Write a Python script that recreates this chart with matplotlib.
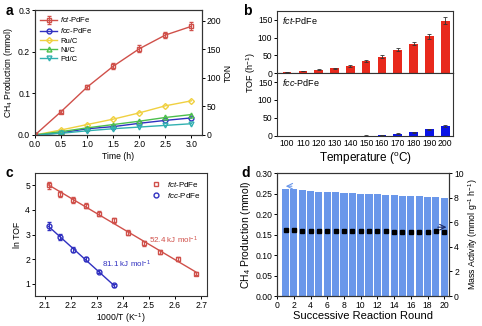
import numpy as np
import matplotlib
matplotlib.use('Agg')
from matplotlib import pyplot as plt
from matplotlib.lines import Line2D

plt.rcParams['font.family'] = ['Liberation Sans', 'DejaVu Sans']
plt.rcParams['mathtext.fontset'] = 'custom'
plt.rcParams['mathtext.rm'] = 'Liberation Sans'
plt.rcParams['mathtext.it'] = 'Liberation Sans:italic'
plt.rcParams['axes.linewidth'] = 0.8
plt.rcParams['axes.edgecolor'] = '#333333'

# ---- panel a data ----
time_h = [0, 0.5, 1.0, 1.5, 2.0, 2.5, 3.0]
fct_ch4 = [0, 0.056, 0.115, 0.165, 0.207, 0.240, 0.261]
fct_err = [0, 0.003, 0.005, 0.007, 0.008, 0.008, 0.010]
fcc_ch4 = [0, 0.005, 0.015, 0.020, 0.028, 0.035, 0.041]
ru_ch4 = [0, 0.012, 0.025, 0.038, 0.053, 0.070, 0.082]
ni_ch4 = [0, 0.008, 0.017, 0.025, 0.033, 0.042, 0.049]
pd_ch4 = [0, 0.004, 0.010, 0.015, 0.019, 0.023, 0.027]

# ---- panel b data ----
temps = ['100', '110', '120', '130', '140', '150', '160', '170', '180', '190', '200']
tof_fct = [3, 6, 9, 13, 20, 35, 46, 66, 83, 104, 148]
tof_fct_err = [1, 1, 1.5, 2, 2, 3, 4, 5, 5, 7, 9]
tof_fcc = [0, 0, 0, 0, 0, 1, 3, 6, 10, 18, 28]
tof_fcc_err = [0, 0, 0, 0, 0, 0.5, 1, 1.5, 2, 2.5, 3]

# ---- panel c data ----
inv_t_fct = [2.114, 2.159, 2.207, 2.257, 2.309, 2.364, 2.421, 2.481, 2.544, 2.611, 2.680]
ln_tof_fct = [5.0, 4.65, 4.42, 4.18, 3.85, 3.58, 3.07, 2.65, 2.30, 2.00, 1.40]
ln_fct_err = [0.15, 0.13, 0.12, 0.1, 0.1, 0.1, 0.1, 0.1, 0.08, 0.08, 0.06]
inv_t_fcc = [2.114, 2.159, 2.207, 2.257, 2.309, 2.364]
ln_tof_fcc = [3.35, 2.90, 2.38, 2.02, 1.48, 0.93]
ln_fcc_err = [0.15, 0.12, 0.1, 0.08, 0.06, 0.05]

# ---- panel d data ----
rounds = list(range(1, 21))
ch4_rounds = [0.262, 0.261, 0.259, 0.257, 0.255, 0.254, 0.253, 0.252, 0.251, 0.250,
              0.249, 0.248, 0.247, 0.246, 0.245, 0.244, 0.243, 0.242, 0.241, 0.240]
mass_act = [5.35, 5.35, 5.33, 5.30, 5.28, 5.28, 5.27, 5.26, 5.26, 5.26,
            5.25, 5.25, 5.25, 5.24, 5.24, 5.24, 5.24, 5.24, 5.25, 5.23]

RED = '#d0504a'
BLUE = '#3030c0'
TS = 6.2

fig = plt.figure(figsize=(4.82, 3.26), dpi=100)


def style(ax, size=TS):
    ax.tick_params(direction='out', length=2.3, width=0.7, labelsize=size, pad=1.2)


# panel a
ax = fig.add_axes([0.0726, 0.586, 0.346, 0.383])
h1 = ax.errorbar(time_h, fct_ch4, yerr=fct_err, color=RED, marker='s', mfc='none',
                 ms=3.5, lw=1, capsize=1.5, elinewidth=0.7)
h2, = ax.plot(time_h, fcc_ch4, color=BLUE, marker='o', mfc='none', ms=3.5, lw=1)
h3, = ax.plot(time_h, ru_ch4, color='#f0d040', marker='D', mfc='none', ms=3, lw=1)
h4, = ax.plot(time_h, ni_ch4, color='#4cbf4c', marker='^', mfc='none', ms=3.5, lw=1)
h5, = ax.plot(time_h, pd_ch4, color='#30b0b0', marker='v', mfc='none', ms=3.5, lw=1)
ax.set_xlim(0, 3.2)
ax.set_ylim(0, 0.3)
ax.set_xticks([0, 0.5, 1.0, 1.5, 2.0, 2.5, 3.0])
ax.set_yticks([0, 0.1, 0.2, 0.3])
ax.set_xlabel('Time (h)', fontsize=TS, labelpad=2)
ax.set_ylabel('CH$_4$ Production (mmol)', fontsize=TS, labelpad=2)
style(ax)
ax.legend([h1, h2, h3, h4, h5],
          ['$\\mathit{fct}$-PdFe', '$\\mathit{fcc}$-PdFe', 'Ru/C', 'Ni/C', 'Pd/C'],
          loc='upper left', fontsize=5.5, frameon=False, handlelength=2.2,
          labelspacing=0.25, borderaxespad=0.3, handletextpad=0.4)
ax2 = ax.twinx()
ax2.set_ylim(0, 219)
ax2.set_yticks([0, 50, 100, 150, 200])
ax2.set_ylabel('TON', fontsize=TS, labelpad=2)
style(ax2)
fig.text(0.012, 0.965, 'a', fontsize=10, fontweight='bold', va='center')

# panel b
x = np.arange(len(temps))
axt = fig.add_axes([0.575, 0.776, 0.365, 0.190])
axb = fig.add_axes([0.575, 0.583, 0.365, 0.193])
axt.bar(x, tof_fct, width=0.55, color='#e8291c', yerr=tof_fct_err,
        error_kw=dict(elinewidth=0.6, capsize=1.2, capthick=0.6, ecolor='#333333'))
axb.bar(x, tof_fcc, width=0.55, color='#0a14e6', yerr=tof_fcc_err,
        error_kw=dict(elinewidth=0.6, capsize=1.2, capthick=0.6, ecolor='#333333'))
for a in (axt, axb):
    a.set_xlim(-0.63, 10.5)
    a.set_ylim(0, 175)
    a.set_yticks([0, 50, 100, 150])
    style(a)
axt.set_xticks([])
axb.set_xticks(x)
axb.set_xticklabels(temps)
axb.tick_params(axis='x', length=0, labelsize=6.2, pad=2.5)
axt.text(0.03, 0.93, '$\\mathit{fct}$-PdFe', transform=axt.transAxes, fontsize=6.5, va='top')
axb.text(0.03, 0.93, '$\\mathit{fcc}$-PdFe', transform=axb.transAxes, fontsize=6.5, va='top')
axb.set_xlabel('Temperature ($^{\\mathrm{o}}$C)', fontsize=8.5, labelpad=1)
fig.text(0.522, 0.776, 'TOF (h$^{-1}$)', rotation=90, fontsize=6.5, va='center', ha='center')
fig.text(0.505, 0.965, 'b', fontsize=10, fontweight='bold', va='center')

# panel c
ax = fig.add_axes([0.0726, 0.092, 0.357, 0.377])
ax.errorbar(inv_t_fct, ln_tof_fct, yerr=ln_fct_err, color=RED, marker='s', mfc='none',
            ms=3.5, ls='none', capsize=1.5, elinewidth=0.7)
ax.errorbar(inv_t_fcc, ln_tof_fcc, yerr=ln_fcc_err, color=BLUE, marker='o', mfc='none',
            ms=3.5, ls='none', capsize=1.5, elinewidth=0.7)
m1, b1 = np.polyfit(inv_t_fct, ln_tof_fct, 1)
m2, b2 = np.polyfit(inv_t_fcc, ln_tof_fcc, 1)
xf1 = np.array([inv_t_fct[0], inv_t_fct[-1]])
xf2 = np.array([inv_t_fcc[0], inv_t_fcc[-1]])
ax.plot(xf1, m1 * xf1 + b1, color=RED, lw=1)
ax.plot(xf2, m2 * xf2 + b2, color=BLUE, lw=1)
ax.text(2.50, 2.77, '52.4 kJ mol$^{-1}$', color=RED, fontsize=5.8, va='center')
ax.text(2.32, 1.78, '81.1 kJ mol$^{-1}$', color=BLUE, fontsize=5.8, va='center')
ax.set_xlim(2.062, 2.723)
ax.set_ylim(0.5, 5.5)
ax.set_xticks([2.1, 2.2, 2.3, 2.4, 2.5, 2.6, 2.7])
ax.set_yticks([1, 2, 3, 4, 5])
ax.set_xlabel('1000/T (K$^{-1}$)', fontsize=TS, labelpad=1)
ax.set_ylabel('ln TOF', fontsize=TS, labelpad=2)
style(ax)
leg_handles = [Line2D([], [], color=RED, marker='s', mfc='none', ms=3.5, ls='none'),
               Line2D([], [], color=BLUE, marker='o', mfc='none', ms=3.5, ls='none')]
ax.legend(leg_handles, ['$\\mathit{fct}$-PdFe', '$\\mathit{fcc}$-PdFe'],
          loc='upper right', fontsize=5.8, frameon=False, handletextpad=0.3,
          labelspacing=0.3, borderaxespad=0.4)
fig.text(0.012, 0.47, 'c', fontsize=10, fontweight='bold', va='center')

# panel d
ax = fig.add_axes([0.575, 0.092, 0.357, 0.377])
ax.bar(rounds, ch4_rounds, width=0.85, color='#6a97ea')
ax.set_xlim(0, 20.6)
ax.set_ylim(0, 0.30)
ax.set_xticks(range(0, 21, 2))
ax.set_yticks(np.arange(0, 0.31, 0.05))
ax.set_yticklabels(['%.2f' % v for v in np.arange(0, 0.31, 0.05)])
ax.set_xlabel('Successive Reaction Round', fontsize=8, labelpad=1)
ax.set_ylabel('CH$_4$ Production (mmol)', fontsize=7.5, labelpad=2)
style(ax, 6.2)
ax.annotate('', xy=(0.7, 0.268), xytext=(2.1, 0.268),
            arrowprops=dict(arrowstyle='->', color='#6a97ea', lw=0.8))
ax2 = ax.twinx()
ax2.plot(rounds, mass_act, 's', color='black', ms=2.5)
ax2.set_ylim(0, 10)
ax2.set_yticks([0, 2, 4, 6, 8, 10])
ax2.set_ylabel('Mass Activity (mmol g$^{-1}$ h$^{-1}$)', fontsize=6.3, labelpad=2)
style(ax2, 6.2)
ax2.annotate('', xy=(20.6, 5.6), xytext=(18.9, 5.6),
             arrowprops=dict(arrowstyle='->', color='#1a2a6a', lw=0.8))
fig.text(0.500, 0.47, 'd', fontsize=10, fontweight='bold', va='center')

fig.savefig('out.png', dpi=100)
